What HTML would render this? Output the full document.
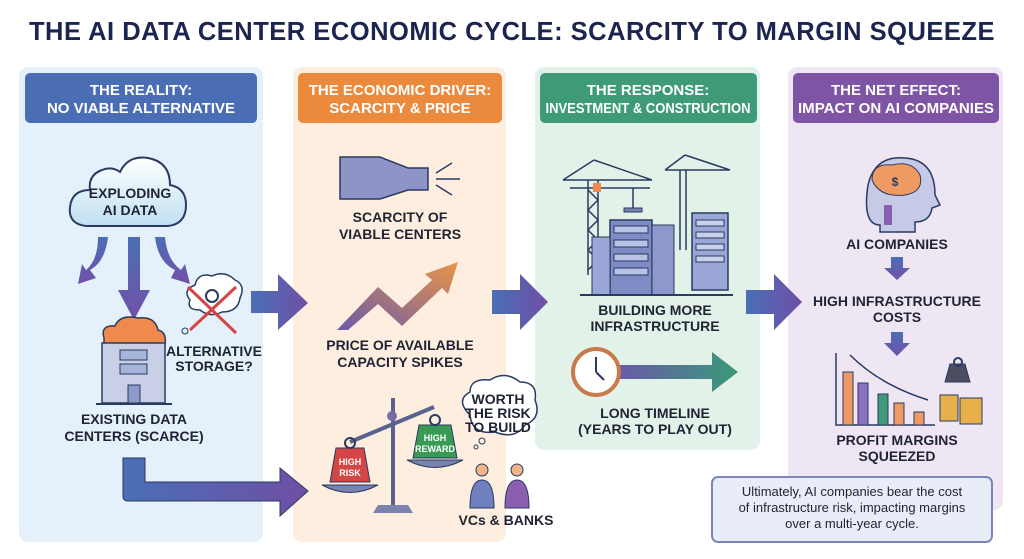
<!DOCTYPE html>
<html><head><meta charset="utf-8"><style>
html,body{margin:0;padding:0;background:#fff;}
svg{display:block;font-family:"Liberation Sans",sans-serif;}
.t{font-weight:bold;font-size:14px;fill:#1f2333;text-anchor:middle;}
.h{font-weight:bold;font-size:15px;fill:#fff;text-anchor:middle;}
</style></head><body>
<svg width="1024" height="559" viewBox="0 0 1024 559" xmlns="http://www.w3.org/2000/svg">
<defs>
<linearGradient id="ga" x1="0" x2="1"><stop offset="0" stop-color="#4a6fb5"/><stop offset="1" stop-color="#6f4fa6"/></linearGradient>
<linearGradient id="gv" x1="0" y1="0" x2="0" y2="1"><stop offset="0" stop-color="#4a6fb5"/><stop offset="1" stop-color="#7350a8"/></linearGradient>
<linearGradient id="gp" x1="0" y1="1" x2="1" y2="0"><stop offset="0" stop-color="#6a5aa8"/><stop offset="1" stop-color="#e8944a"/></linearGradient>
<linearGradient id="gt" x1="0" x2="1"><stop offset="0" stop-color="#6b58a8"/><stop offset="1" stop-color="#3a9a7a"/></linearGradient>
<linearGradient id="cl" x1="0" y1="0" x2="0" y2="1"><stop offset="0" stop-color="#fff"/><stop offset="1" stop-color="#bfe0f2"/></linearGradient>
</defs>
<text x="512" y="40" text-anchor="middle" font-weight="bold" font-size="25.5" fill="#1c2450" letter-spacing="0.5">THE AI DATA CENTER ECONOMIC CYCLE: SCARCITY TO MARGIN SQUEEZE</text>

<!-- panels -->
<rect x="19" y="67" width="244" height="475" rx="9" fill="#e4f1fb"/>
<rect x="293" y="67" width="213" height="475" rx="9" fill="#fdeedf"/>
<rect x="535" y="67" width="225" height="383" rx="9" fill="#e2f2e9"/>
<rect x="788" y="67" width="215" height="443" rx="9" fill="#efe6f4"/>
<rect x="25" y="73" width="232" height="50" rx="5" fill="#4a6db3"/>
<rect x="298" y="73" width="204" height="50" rx="5" fill="#eb8a3c"/>
<rect x="540" y="73" width="217" height="50" rx="5" fill="#3f9a78"/>
<rect x="793" y="73" width="206" height="50" rx="5" fill="#7e55a4"/>
<text class="h" x="141" y="95">THE REALITY:</text><text class="h" x="141" y="113">NO VIABLE ALTERNATIVE</text>
<text class="h" x="400" y="95">THE ECONOMIC DRIVER:</text><text class="h" x="400" y="113">SCARCITY &amp; PRICE</text>
<text class="h" x="648" y="95">THE RESPONSE:</text><text class="h" x="648" y="113" font-size="13.5" textLength="205" lengthAdjust="spacingAndGlyphs">INVESTMENT &amp; CONSTRUCTION</text>
<text class="h" x="896" y="95">THE NET EFFECT:</text><text class="h" x="896" y="113" textLength="196" lengthAdjust="spacingAndGlyphs">IMPACT ON AI COMPANIES</text>

<!-- cloud -->
<path d="M86 226 Q68 224 70 207 Q72 190 90 190 Q88 175 102 170 Q112 166 120 172 Q128 155 148 158 Q170 162 170 185 Q186 188 186 205 Q186 224 168 226 Z" fill="url(#cl)" stroke="#2a3a60" stroke-width="2"/>
<text class="t" x="130" y="198">EXPLODING</text><text class="t" x="130" y="215">AI DATA</text>
<!-- three arrows -->
<path d="M108 237 Q105 262 90 270 L96 278 L78 284 L82 264 L86 270 Q98 260 98 237 Z" fill="url(#gv)"/>
<path d="M128 237 H140 V290 H150 L134 320 L118 290 H128 Z" fill="url(#gv)"/>
<path d="M155 237 Q158 262 175 270 L171 278 L190 284 L185 264 L181 270 Q167 260 165 237 Z" fill="url(#gv)"/>
<!-- thought cloud with X -->
<path d="M190 300 Q182 290 195 285 Q198 272 212 276 Q225 270 235 280 Q246 285 240 298 Q238 312 222 312 Q210 318 200 310 Q186 310 190 300 Z" fill="#fff" stroke="#2a3a60" stroke-width="1.5"/>
<circle cx="212" cy="296" r="6" fill="none" stroke="#2a3a60" stroke-width="2"/>
<path d="M188 287 L236 333 M236 287 L190 330" stroke="#d64545" stroke-width="3"/>
<circle cx="185" cy="331" r="3" fill="none" stroke="#2a3a60"/>
<text class="t" x="214" y="356" font-size="13">ALTERNATIVE</text><text class="t" x="214" y="371" font-size="13">STORAGE?</text>
<!-- building -->
<path d="M104 338 Q100 325 115 326 Q120 314 138 318 Q155 316 158 330 Q167 332 165 345 L104 345 Z" fill="#ef8a4c" stroke="#2a3a60" stroke-width="1.5"/>
<rect x="102" y="343" width="63" height="60" fill="#c8cfe6" stroke="#2a3a60" stroke-width="1.5"/>
<rect x="120" y="350" width="27" height="10" fill="#a6b4da" stroke="#2a3a60"/><rect x="120" y="364" width="27" height="10" fill="#a6b4da" stroke="#2a3a60"/>
<rect x="128" y="385" width="12" height="18" fill="#8b9ac8" stroke="#2a3a60"/>
<line x1="96" y1="404" x2="172" y2="404" stroke="#2a3a60" stroke-width="2"/>
<text class="t" x="134" y="424">EXISTING DATA</text><text class="t" x="134" y="441">CENTERS (SCARCE)</text>
<!-- L arrow -->
<path d="M123 458 H145 V482 H280 V468 L308 491 L280 516 V501 H128 Q123 501 123 496 Z" fill="url(#ga)" stroke="#2a3a60" stroke-width="1"/>
<!-- panel arrows -->
<path d="M251 291 H278 V274 L308 303 L278 330 V313 H251 Z" fill="url(#ga)"/>
<path d="M492 290 H520 V274 L548 302 L520 330 V314 H492 Z" fill="url(#ga)"/>
<path d="M746 290 H774 V274 L802 302 L774 330 V314 H746 Z" fill="url(#ga)"/>

<!-- bottle -->
<path d="M340 157 H380 L408 168 H428 V190 H408 L380 199 H340 Z" fill="#8e93c8" stroke="#2a3a60" stroke-width="1.5"/>
<path d="M436 173 L452 163 M436 179 H460 M436 185 L452 195" stroke="#2a3a60" stroke-width="1.5" fill="none"/>
<text class="t" x="400" y="222">SCARCITY OF</text><text class="t" x="400" y="239">VIABLE CENTERS</text>
<!-- zigzag -->
<path d="M337 330 L378 287 L402 308 L432 280 L425 274 L458 262 L448 294 L442 288 L402 326 L378 304 L348 330 Z" fill="url(#gp)"/>
<text class="t" x="400" y="350">PRICE OF AVAILABLE</text><text class="t" x="400" y="367">CAPACITY SPIKES</text>
<!-- scale -->
<line x1="393" y1="398" x2="393" y2="510" stroke="#5a6290" stroke-width="4"/>
<line x1="350" y1="442" x2="434" y2="407" stroke="#5a6290" stroke-width="4"/>
<circle cx="392" cy="416" r="5" fill="#7a6aa8"/>
<path d="M373 513 H413 L408 505 H378 Z" fill="#7a82b0"/>
<path d="M322 485 Q350 500 378 485 Z" fill="#7a82b0" stroke="#2a3a60"/>
<path d="M407 460 Q435 475 463 460 Z" fill="#7a82b0" stroke="#2a3a60"/>
<path d="M336 448 H364 L370 482 H330 Z" fill="#d44545" stroke="#2a3a60"/>
<circle cx="350" cy="443" r="5" fill="none" stroke="#2a3a60" stroke-width="2"/>
<text x="350" y="465" font-size="9" font-weight="bold" fill="#fff" text-anchor="middle">HIGH</text><text x="350" y="476" font-size="9" font-weight="bold" fill="#fff" text-anchor="middle">RISK</text>
<path d="M419 425 H451 L457 458 H413 Z" fill="#3a9a55" stroke="#2a3a60"/>
<circle cx="435" cy="420" r="5" fill="none" stroke="#2a3a60" stroke-width="2"/>
<text x="435" y="441" font-size="9" font-weight="bold" fill="#fff" text-anchor="middle">HIGH</text><text x="435" y="452" font-size="9" font-weight="bold" fill="#fff" text-anchor="middle">REWARD</text>
<!-- thought cloud VCs -->
<path d="M470 415 Q455 400 470 392 Q470 378 490 380 Q505 370 520 382 Q538 382 535 400 Q542 418 525 425 Q515 440 495 432 Q472 435 470 415 Z" fill="#fff" stroke="#2a3a60" stroke-width="1.5"/>
<text class="t" x="498" y="404" font-size="12">WORTH</text><text class="t" x="498" y="418" font-size="12">THE RISK</text><text class="t" x="498" y="432" font-size="12">TO BUILD</text>
<circle cx="482" cy="441" r="3" fill="none" stroke="#2a3a60"/><circle cx="476" cy="447" r="2" fill="none" stroke="#2a3a60"/>
<circle cx="482" cy="470" r="6" fill="#f0b48a" stroke="#2a3a60"/><path d="M470 508 Q470 480 482 480 Q494 480 494 508 Z" fill="#6f7fc0" stroke="#2a3a60"/>
<circle cx="517" cy="470" r="6" fill="#f0b48a" stroke="#2a3a60"/><path d="M505 508 Q505 480 517 480 Q529 480 529 508 Z" fill="#8a5fb0" stroke="#2a3a60"/>
<text class="t" x="506" y="525" font-size="13">VCs &amp; BANKS</text>

<!-- cranes & buildings -->
<g stroke="#2a3a60" stroke-width="1.5" fill="none">
<path d="M588 180 V275 M598 180 V275 M588 190 L598 200 L588 210 L598 220 L588 230 L598 240 L588 250 L598 260 L588 270"/>
<path d="M563 180 H652 M570 188 H650 M594 160 L563 180 M594 160 L652 180"/>
<path d="M680 170 V250 M686 170 V250 M665 170 H730 M685 155 L665 170 M685 155 L730 170"/>
<line x1="633" y1="188" x2="633" y2="208"/>
</g>
<rect x="593" y="183" width="8" height="9" fill="#ef8a4c"/>
<rect x="624" y="208" width="18" height="4" fill="#7a82b0" stroke="#2a3a60"/>
<rect x="610" y="220" width="42" height="75" fill="#7f8bc4" stroke="#2a3a60" stroke-width="1.5"/>
<rect x="614" y="226" width="34" height="7" fill="#b8c2e6" stroke="#2a3a60"/><rect x="614" y="240" width="34" height="7" fill="#b8c2e6" stroke="#2a3a60"/><rect x="614" y="254" width="34" height="7" fill="#b8c2e6" stroke="#2a3a60"/><rect x="614" y="268" width="34" height="7" fill="#b8c2e6" stroke="#2a3a60"/>
<rect x="592" y="237" width="18" height="58" fill="#9aa6d6" stroke="#2a3a60"/>
<rect x="652" y="225" width="22" height="70" fill="#8e98cc" stroke="#2a3a60"/>
<rect x="692" y="213" width="36" height="77" fill="#9aa6d6" stroke="#2a3a60" stroke-width="1.5"/>
<rect x="696" y="220" width="28" height="6" fill="#c8d0ee" stroke="#2a3a60"/><rect x="696" y="232" width="28" height="6" fill="#c8d0ee" stroke="#2a3a60"/><rect x="696" y="244" width="28" height="6" fill="#c8d0ee" stroke="#2a3a60"/><rect x="696" y="256" width="28" height="6" fill="#c8d0ee" stroke="#2a3a60"/>
<line x1="580" y1="295" x2="733" y2="295" stroke="#2a3a60" stroke-width="2"/>
<text class="t" x="655" y="315">BUILDING MORE</text><text class="t" x="655" y="331">INFRASTRUCTURE</text>
<!-- clock + arrow -->
<path d="M615 365 H712 V352 L738 372 L712 392 V379 H615 Z" fill="url(#gt)"/>
<circle cx="596" cy="372" r="23" fill="#fff" stroke="#c87a4a" stroke-width="4"/>
<path d="M596 372 V357 M596 372 L604 380" stroke="#2a3a60" stroke-width="2"/>
<text class="t" x="655" y="418">LONG TIMELINE</text><text class="t" x="655" y="434">(YEARS TO PLAY OUT)</text>

<!-- head -->
<path d="M880 225 Q862 225 868 185 Q875 155 905 158 Q935 160 935 195 L940 205 L932 208 Q930 222 915 222 V232 H880 Z" fill="#c6cae6" stroke="#2a3a60" stroke-width="1.5"/>
<path d="M872 180 Q872 163 892 165 Q912 160 920 175 Q924 192 905 195 Q880 198 872 180 Z" fill="#ef9a62" stroke="#2a3a60"/>
<text x="895" y="186" font-size="12" font-weight="bold" fill="#2a3a60" text-anchor="middle">$</text>
<rect x="884" y="205" width="8" height="20" fill="#8a5fb0"/>
<text class="t" x="897" y="249">AI COMPANIES</text>
<path d="M891 257 H903 V268 H910 L897 280 L884 268 H891 Z" fill="url(#gv)"/>
<text class="t" x="897" y="306">HIGH INFRASTRUCTURE</text><text class="t" x="897" y="322">COSTS</text>
<path d="M891 332 H903 V343 H910 L897 356 L884 343 H891 Z" fill="url(#gv)"/>
<!-- bars -->
<path d="M836 353 V425 H935" stroke="#2a3a60" stroke-width="1.5" fill="none"/>
<rect x="843" y="372" width="10" height="53" fill="#ef9a62" stroke="#2a3a60"/>
<rect x="858" y="383" width="10" height="42" fill="#8a70c0" stroke="#2a3a60"/>
<rect x="878" y="394" width="10" height="31" fill="#3f9a78" stroke="#2a3a60"/>
<rect x="894" y="403" width="10" height="22" fill="#ef9a62" stroke="#2a3a60"/>
<rect x="914" y="412" width="10" height="13" fill="#ef9a62" stroke="#2a3a60"/>
<path d="M850 355 Q880 385 928 400" stroke="#2a3a60" stroke-width="1.5" fill="none"/>
<path d="M945 382 L950 364 H965 L970 382 Z" fill="#4a4e60" stroke="#2a3a60"/>
<circle cx="958" cy="362" r="4" fill="none" stroke="#2a3a60" stroke-width="2"/>
<rect x="940" y="395" width="18" height="26" fill="#e6b04a" stroke="#2a3a60"/><rect x="960" y="398" width="22" height="26" fill="#e6b04a" stroke="#2a3a60"/>
<text class="t" x="897" y="445">PROFIT MARGINS</text><text class="t" x="897" y="461">SQUEEZED</text>

<!-- note -->
<rect x="712" y="477" width="280" height="65" rx="6" fill="#e8edf8" stroke="#7a86b8" stroke-width="2"/>
<text x="852" y="496" font-size="13" fill="#1f2333" text-anchor="middle">Ultimately, AI companies bear the cost</text>
<text x="852" y="512" font-size="13" fill="#1f2333" text-anchor="middle">of infrastructure risk, impacting margins</text>
<text x="852" y="528" font-size="13" fill="#1f2333" text-anchor="middle">over a multi-year cycle.</text>
</svg>
</body></html>
